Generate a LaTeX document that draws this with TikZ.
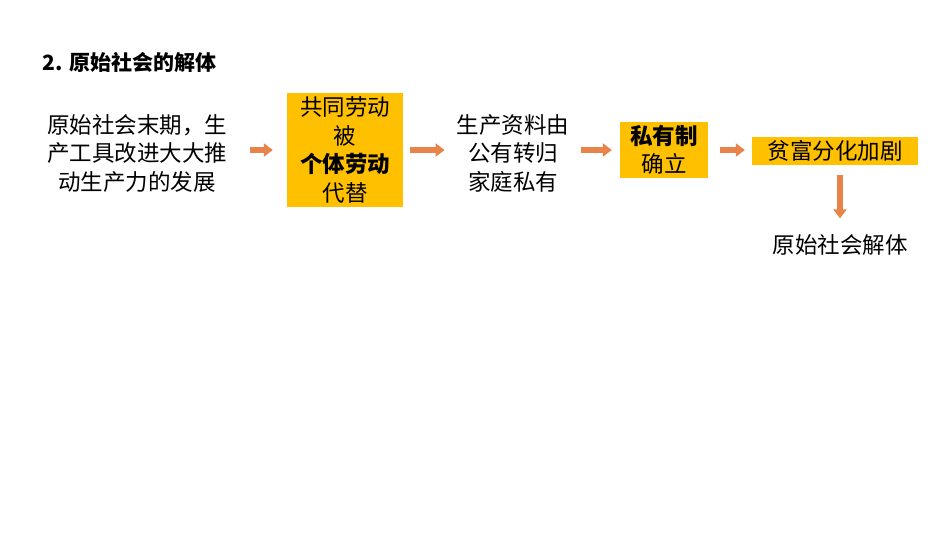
\documentclass[tikz,border=0pt]{standalone}
\usepackage{fontspec}
\setmainfont{Noto Sans CJK SC}
\usetikzlibrary{positioning,arrows.meta}
\definecolor{boxfill}{HTML}{FFC000}
\definecolor{arrowc}{HTML}{E8834A}
\begin{document}
\begin{tikzpicture}[x=1pt,y=-1pt,
  txt/.style={align=center,font=\fontsize{22.5}{28.5}\selectfont,inner sep=0pt},
  box/.style={txt,fill=boxfill},
  flow/.style={arrowc,line width=6pt,-{Triangle[length=9pt,width=13pt]}}]
	\useasboundingbox (0,0) rectangle (950,535);
	\node[anchor=west,font=\fontsize{21}{24}\selectfont\bfseries] (title) at (39,62) {2. 原始社会的解体};
	\node[txt] (cause) at (137,153) {原始社会末期，生\\产工具改进大大推\\动生产力的发展};
	\node[box,minimum width=116,minimum height=114] (labor) at (345,150) {共同劳动\\被\\\textbf{个体劳动}\\代替};
	\node[txt] (means) at (513,153) {生产资料由\\公有转归\\家庭私有};
	\node[box,minimum width=88,minimum height=56] (private) at (664,150) {\textbf{私有制}\\确立};
	\node[box,minimum width=166,minimum height=28] (gap) at (835,151) {贫富分化加剧};
	\node[txt] (end) at (840,245) {原始社会解体};
	\coordinate (c1) at ([xshift=250]0,150);
	\draw[flow,shorten >=14pt] (c1) -- (labor.west);
	\draw[flow,shorten <=7pt,shorten >=12pt] (labor.east) -- (means.west |- labor.east);
	\draw[flow,shorten <=12pt,shorten >=8pt] (means.east |- private.west) -- (private.west);
	\draw[flow,shorten <=12pt,shorten >=7pt] (private.east) -- (gap.west |- private.east);
	\draw[flow,shorten <=10pt,shorten >=16pt] (gap.south -| end.north) -- (end.north);
\end{tikzpicture}
\end{document}
